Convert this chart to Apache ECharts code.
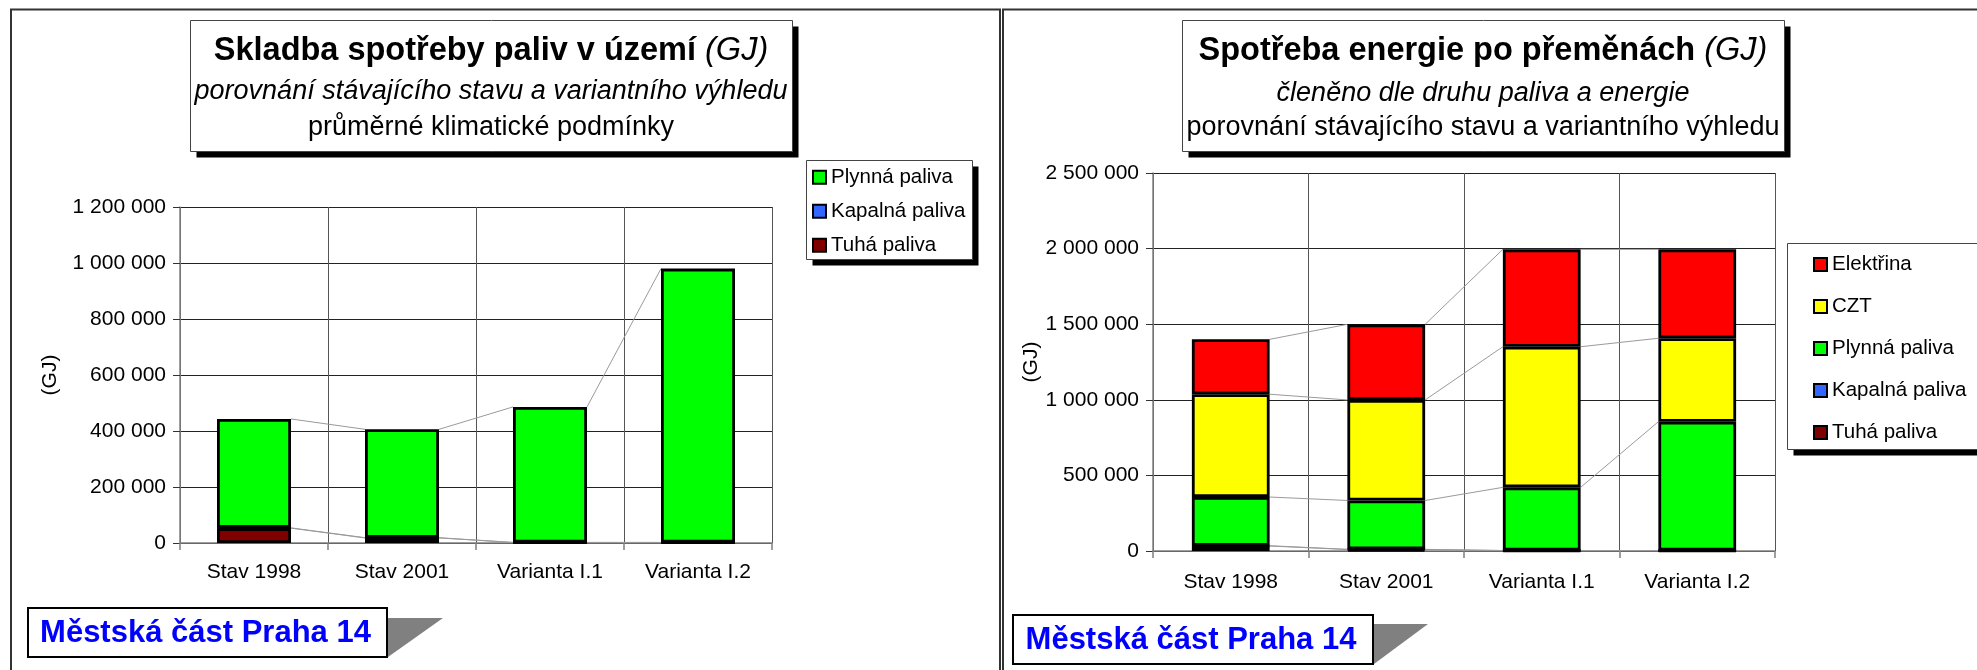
<!DOCTYPE html>
<html>
<head>
<meta charset="utf-8">
<script src="https://cdn.jsdelivr.net/npm/echarts@6/dist/echarts.min.js"></script>
<style>
html,body{margin:0;padding:0;background:#fff;}
#chart{width:1977px;height:670px;}
</style>
</head>
<body>
<div id="chart"></div>
<script>
// ---- data ----
const categories = ['Stav 1998', 'Stav 2001', 'Varianta I.1', 'Varianta I.2'];

// left chart: Skladba spotřeby paliv v území (GJ)
const fuelTuha    = [53000, 18000, 2000, 2000];
const fuelKapalna = [1000, 1000, 0, 0];
const fuelPlynna  = [389000, 387000, 484000, 978000];

// right chart: Spotřeba energie po přeměnách (GJ)
const enTuha      = [33000, 10000, 3000, 3000];
const enKapalna   = [2000, 1000, 0, 0];
const enPlynna    = [322000, 323000, 418000, 852000];
const enCZT       = [680000, 665000, 930000, 552000];
const enElektrina = [363000, 500000, 644000, 588000];

const leftTicks  = {min: 0, max: 1200000, interval: 200000};
const rightTicks = {min: 0, max: 2500000, interval: 500000};

const leftLegend  = ['Plynná paliva', 'Kapalná paliva', 'Tuhá paliva'];
const rightLegend = ['Elektřina', 'CZT', 'Plynná paliva', 'Kapalná paliva', 'Tuhá paliva'];

// ---- styling ----
const FONT = '"Liberation Sans", Arial, sans-serif';
const colors = {
  'Tuhá paliva': '#800000',
  'Kapalná paliva': '#3366FF',
  'Plynná paliva': '#00FF00',
  'CZT': '#FFFF00',
  'Elektřina': '#FF0000'
};

function fmt(v) { return String(v).replace(/\B(?=(\d{3})+(?!\d))/g, ' '); }

function cumulative(list) {
  const out = [];
  let acc = list[0].map(() => 0);
  list.forEach(arr => {
    acc = acc.map((a, i) => a + arr[i]);
    out.push(acc.slice());
  });
  return out;
}
function seriesLineData(list) {
  const res = [];
  cumulative(list).forEach(cum => {
    for (let i = 0; i < cum.length - 1; i++) res.push([i, cum[i], cum[i + 1]]);
  });
  return res;
}

function barSeries(name, data, idx) {
  return {
    type: 'bar', name: name, data: data, stack: 's' + idx,
    xAxisIndex: idx, yAxisIndex: idx,
    barCategoryGap: '50%',
    itemStyle: {color: colors[name], borderColor: '#000', borderWidth: 2.8},
    z: 3
  };
}
function linesSeries(list, idx) {
  return {
    type: 'custom', name: 'lines' + idx, xAxisIndex: idx, yAxisIndex: idx,
    data: seriesLineData(list), encode: {x: 0, y: 1}, z: 2, silent: true,
    renderItem: function (params, api) {
      const i = api.value(0);
      const p1 = api.coord([i, api.value(1)]);
      const p2 = api.coord([i + 1, api.value(2)]);
      const half = api.size([1, 0])[0] * 0.25;
      return {type: 'line', shape: {x1: p1[0] + half, y1: p1[1], x2: p2[0] - half, y2: p2[1]},
        style: {stroke: '#9a9a9a', lineWidth: 1}};
    }
  };
}

function xAxis(idx, margin) {
  return {
    type: 'category', gridIndex: idx, data: categories,
    axisLine: {lineStyle: {color: '#808080', width: 1.5}},
    axisTick: {show: true, length: 7, interval: 0, lineStyle: {color: '#808080', width: 1.5}},
    splitLine: {show: true, interval: 0, lineStyle: {color: '#555', width: 1}},
    axisLabel: {color: '#000', fontSize: 21, fontFamily: FONT, margin: margin, interval: 0}
  };
}
function yAxis(idx, t, gap) {
  return {
    type: 'value', gridIndex: idx, min: t.min, max: t.max, interval: t.interval,
    name: '(GJ)', nameLocation: 'middle', nameGap: gap, nameRotate: 90,
    nameTextStyle: {color: '#000', fontSize: 21, fontFamily: FONT},
    axisLine: {show: true, lineStyle: {color: '#808080', width: 1.5}},
    axisTick: {show: true, length: 7, lineStyle: {color: '#333'}},
    splitLine: {show: true, lineStyle: {color: '#222', width: 1}},
    axisLabel: {color: '#000', fontSize: 21, fontFamily: FONT, margin: 14, formatter: fmt}
  };
}

function titleBox(x, y, w, h) {
  return [
    {type: 'rect', shape: {x: x + 6, y: y + 6, width: w, height: h}, style: {fill: '#000'}, z: 1},
    {type: 'rect', shape: {x: x, y: y, width: w, height: h}, style: {fill: '#fff', stroke: '#444', lineWidth: 1}, z: 2}
  ];
}
function text(x, y, str, font, fill) {
  return {type: 'text', x: x, y: y, z: 3,
    style: {text: str, font: font, fill: fill || '#000', textAlign: 'center', textVerticalAlign: 'middle', align: 'center', verticalAlign: 'middle'}};
}
function richTitle(x, y, bold, ital) {
  return {type: 'text', x: x, y: y, z: 3,
    style: {text: '{b|' + bold + '}{i|' + ital + '}', textAlign: 'center', textVerticalAlign: 'middle', align: 'center', verticalAlign: 'middle',
      rich: {
        b: {font: 'bold 32.5px ' + FONT, fill: '#000'},
        i: {font: 'italic 32.5px ' + FONT, fill: '#000'}
      }}};
}
function cityLabel(x, y, w, h, triW, triTop) {
  return [
    {type: 'polygon', shape: {points: [[x + w, y + triTop], [x + w + triW, y + triTop], [x + w + 1, y + h]]}, style: {fill: '#808080'}, z: 1},
    {type: 'rect', shape: {x: x, y: y, width: w, height: h}, style: {fill: '#fff', stroke: '#000', lineWidth: 2}, z: 2},
    text(x + w / 2 - 2, y + h / 2 + 1, 'Městská část Praha 14', 'bold 31px ' + FONT, '#0000FF')
  ];
}

const graphics = [].concat(
  // panel frames
  [{type: 'rect', shape: {x: 11, y: 9.5, width: 989, height: 720}, style: {fill: null, stroke: '#333', lineWidth: 2}, z: 10},
   {type: 'rect', shape: {x: 1003, y: 9.5, width: 1000, height: 720}, style: {fill: null, stroke: '#333', lineWidth: 2}, z: 10}],
  // left title
  titleBox(190.5, 20.5, 602, 131),
  [richTitle(491, 51, 'Skladba spotřeby paliv v území ', '(GJ)'),
   text(491, 91, 'porovnání stávajícího stavu a variantního výhledu', 'italic 27px ' + FONT),
   text(491, 128, 'průměrné klimatické podmínky', '27px ' + FONT)],
  // right title
  titleBox(1182.5, 20.5, 602, 131),
  [richTitle(1483, 51, 'Spotřeba energie po přeměnách ', '(GJ)'),
   text(1483, 93, 'členěno dle druhu paliva a energie', 'italic 27px ' + FONT),
   text(1483, 128, 'porovnání stávajícího stavu a variantního výhledu', '27px ' + FONT)],
  // legend boxes
  titleBox(806.5, 160.5, 166, 99),
  titleBox(1787.5, 243.5, 240, 206),
  // bottom labels
  cityLabel(28, 608, 359, 49, 56, 10),
  cityLabel(1013, 615, 360, 49, 55, 9)
);

const option = {
  animation: false,
  backgroundColor: '#fff',
  textStyle: {fontFamily: FONT},
  grid: [
    {left: 180, top: 207, width: 592, height: 336, containLabel: false},
    {left: 1153, top: 173, width: 622, height: 378, containLabel: false}
  ],
  xAxis: [xAxis(0, 19), xAxis(1, 21)],
  yAxis: [yAxis(0, leftTicks, 119), yAxis(1, rightTicks, 109)],
  legend: [
    {data: leftLegend, orient: 'vertical', left: 812, top: 166.7, padding: 0, itemGap: 13,
     itemWidth: 13, itemHeight: 13, icon: 'rect', z: 5,
     itemStyle: {borderColor: '#000', borderWidth: 2},
     textStyle: {fontSize: 20.5, lineHeight: 20, color: '#000', fontFamily: FONT}},
    {data: rightLegend, orient: 'vertical', left: 1813, top: 254, padding: 0, itemGap: 21,
     itemWidth: 13, itemHeight: 13, icon: 'rect', z: 5,
     itemStyle: {borderColor: '#000', borderWidth: 2},
     textStyle: {fontSize: 20.5, lineHeight: 20, color: '#000', fontFamily: FONT}}
  ],
  graphic: {elements: graphics},
  series: [
    linesSeries([fuelTuha, fuelKapalna, fuelPlynna], 0),
    barSeries('Tuhá paliva', fuelTuha, 0),
    barSeries('Kapalná paliva', fuelKapalna, 0),
    barSeries('Plynná paliva', fuelPlynna, 0),
    linesSeries([enTuha, enKapalna, enPlynna, enCZT, enElektrina], 1),
    barSeries('Tuhá paliva', enTuha, 1),
    barSeries('Kapalná paliva', enKapalna, 1),
    barSeries('Plynná paliva', enPlynna, 1),
    barSeries('CZT', enCZT, 1),
    barSeries('Elektřina', enElektrina, 1)
  ]
};

const chart = echarts.init(document.getElementById('chart'), null, {renderer: 'canvas'});
chart.setOption(option);
</script>
</body>
</html>
